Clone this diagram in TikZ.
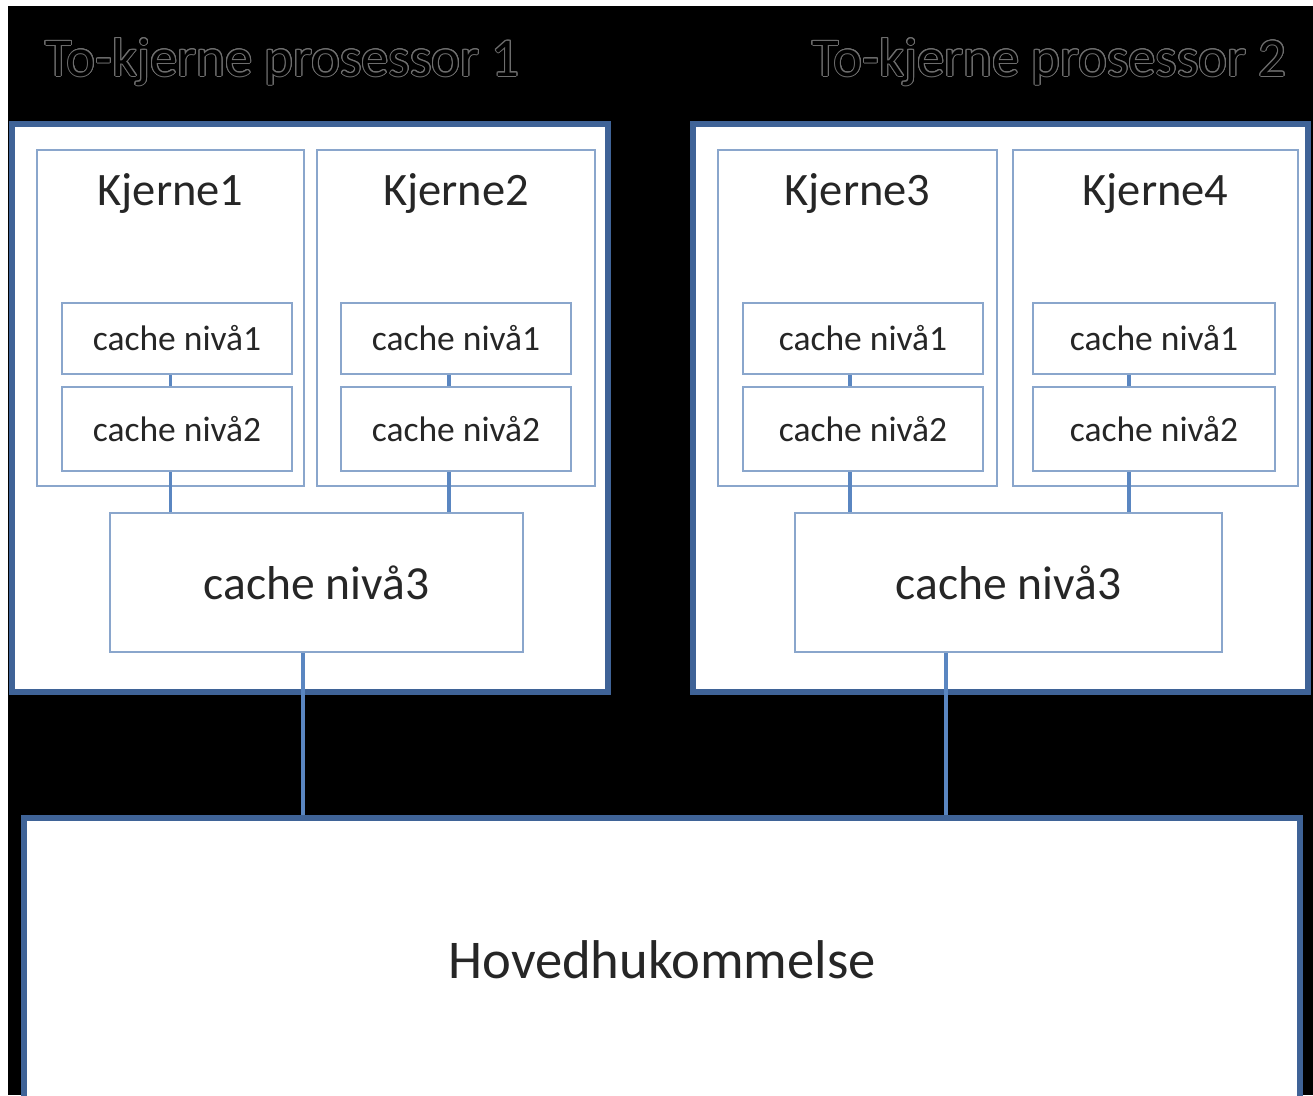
\documentclass[tikz,border=0pt]{standalone}
\usepackage{fontspec}
\setmainfont{Carlito}
\definecolor{outerblue}{HTML}{3F6397}
\definecolor{innerblue}{HTML}{8AA6CC}
\definecolor{linkblue}{HTML}{5A86C1}
\definecolor{txt}{HTML}{262626}
\definecolor{ttlgray}{HTML}{6E6E6E}
\begin{document}
\begin{tikzpicture}[x=1pt,y=-1pt,
  outerbox/.style={draw=outerblue, line width=5.5pt, fill=white, rectangle, inner sep=0pt},
  innerbox/.style={draw=innerblue, line width=2.4pt, fill=white, rectangle, inner sep=0pt},
  link/.style={draw=linkblue, line width=3.2pt},
  coretxt/.style={text=txt, font=\fontsize{46.5}{56}\selectfont, inner sep=0pt, anchor=base},
  cachetxt/.style={text=txt, font=\fontsize{35.5}{42}\selectfont, inner sep=0pt},
  bigtxt/.style={text=txt, font=\fontsize{47.5}{56}\selectfont, inner sep=0pt},
  memtxt/.style={text=txt, font=\fontsize{54.6}{64}\selectfont, inner sep=0pt},
  ttl/.style={font=\fontsize{54.6}{64}\selectfont, inner sep=0pt, anchor=base west}
]
\useasboundingbox (0,0) rectangle (1313,1095);
\clip (0,0) rectangle (1313,1095);
\fill[white] (0,0) rectangle (1313,1095);
\fill[black] (8,6) rectangle (1313,1095);

% titles (outlined)
\foreach \a [count=\i] in {0,22.5,...,337.5} {
  \node[ttl, text=ttlgray] (t1c\i) at ([shift={(\a:1.0)}]45,76) {To-kjerne prosessor 1};
  \node[ttl, text=ttlgray] (t2c\i) at ([shift={(\a:1.0)}]812,76) {To-kjerne prosessor 2};
}
\node[ttl, text=black] (t1) at (45,76) {To-kjerne prosessor 1};
\node[ttl, text=black] (t2) at (812,76) {To-kjerne prosessor 2};

% processor boxes
\node[outerbox, minimum width=596pt, minimum height=568pt] (p1) at (310,408) {};
\node[outerbox, minimum width=615pt, minimum height=568pt] (p2) at (1000.5,408) {};

% cores
\node[innerbox, minimum width=267pt, minimum height=336pt] (k1) at (170.5,318) {};
\node[innerbox, minimum width=278pt, minimum height=336pt] (k2) at (456,318) {};
\node[innerbox, minimum width=279pt, minimum height=336pt] (k3) at (857.5,318) {};
\node[innerbox, minimum width=285pt, minimum height=336pt] (k4) at (1155.5,318) {};
\node[coretxt] (k1t) at ([yshift=-57pt]k1.north) {Kjerne1};
\node[coretxt] (k2t) at ([yshift=-57pt]k2.north) {Kjerne2};
\node[coretxt] (k3t) at ([yshift=-57pt]k3.north) {Kjerne3};
\node[coretxt] (k4t) at ([yshift=-57pt]k4.north) {Kjerne4};

% level 1 and 2 caches
\node[innerbox, cachetxt, minimum width=230pt, minimum height=71pt] (a1) at (177,338.5) {cache nivå1};
\node[innerbox, cachetxt, minimum width=230pt, minimum height=84pt] (a2) at (177,429) {cache nivå2};
\node[innerbox, cachetxt, minimum width=230pt, minimum height=71pt] (b1) at (456,338.5) {cache nivå1};
\node[innerbox, cachetxt, minimum width=230pt, minimum height=84pt] (b2) at (456,429) {cache nivå2};
\node[innerbox, cachetxt, minimum width=240pt, minimum height=71pt] (c1) at (863,338.5) {cache nivå1};
\node[innerbox, cachetxt, minimum width=240pt, minimum height=84pt] (c2) at (863,429) {cache nivå2};
\node[innerbox, cachetxt, minimum width=242pt, minimum height=71pt] (d1) at (1154,338.5) {cache nivå1};
\node[innerbox, cachetxt, minimum width=242pt, minimum height=84pt] (d2) at (1154,429) {cache nivå2};

% level 3 caches
\node[innerbox, bigtxt, minimum width=413pt, minimum height=139pt] (l3a) at (316.5,582.5) {cache nivå3};
\node[innerbox, bigtxt, minimum width=427pt, minimum height=139pt] (l3b) at (1008.5,582.5) {cache nivå3};

% main memory
\node[outerbox, minimum width=1276pt, minimum height=310pt] (mem) at (662,973) {};
\node[memtxt] (memt) at (662,960) {Hovedhukommelse};

% connectors
\draw[link] ([xshift=-6.5pt]a1.south) -- ([xshift=-6.5pt]a2.north);
\draw[link] ([xshift=-7pt]b1.south) -- ([xshift=-7pt]b2.north);
\draw[link] ([xshift=-13pt]c1.south) -- ([xshift=-13pt]c2.north);
\draw[link] ([xshift=-25pt]d1.south) -- ([xshift=-25pt]d2.north);
\draw[link] ([xshift=-6.5pt]a2.south) -- ([xshift=-6.5pt]a2.south |- l3a.north);
\draw[link] ([xshift=-7pt]b2.south) -- ([xshift=-7pt]b2.south |- l3a.north);
\draw[link] ([xshift=-13pt]c2.south) -- ([xshift=-13pt]c2.south |- l3b.north);
\draw[link] ([xshift=-25pt]d2.south) -- ([xshift=-25pt]d2.south |- l3b.north);
\draw[link] ([xshift=-13.5pt]l3a.south) -- ([xshift=-13.5pt]l3a.south |- mem.north);
\draw[link] ([xshift=-62.5pt]l3b.south) -- ([xshift=-62.5pt]l3b.south |- mem.north);
\end{tikzpicture}
\end{document}
